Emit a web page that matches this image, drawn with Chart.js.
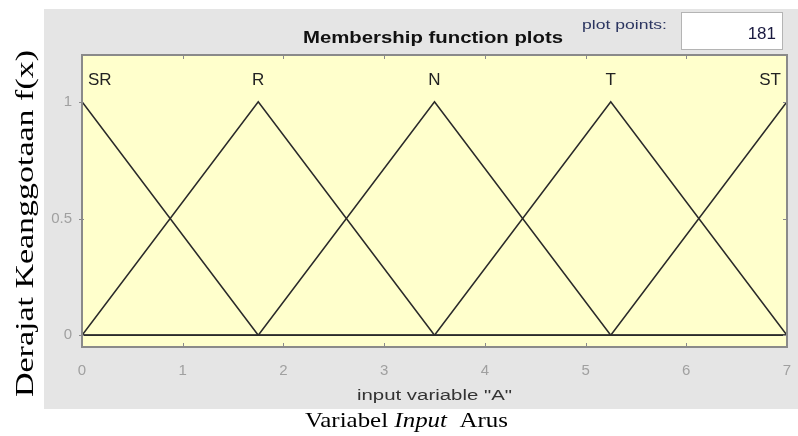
<!DOCTYPE html>
<html>
<head>
<meta charset="utf-8">
<script src="https://cdn.jsdelivr.net/npm/chart.js@4.4.1/dist/chart.umd.min.js"></script>
<style>
  html, body { margin: 0; padding: 0; background: #ffffff; }
  #wrap { width: 798px; height: 436px; }
</style>
</head>
<body>
<div id="wrap"><canvas id="mfChart" width="798" height="436"></canvas></div>
<script>
// breakpoints of the input range (A)
const breakX = [0, 1.75, 3.5, 5.25, 7];
// membership degree of each set at the breakpoints
const mfSR = [1, 0, 0, 0, 0];
const mfR  = [0, 1, 0, 0, 0];
const mfN  = [0, 0, 1, 0, 0];
const mfT  = [0, 0, 0, 1, 0];
const mfST = [0, 0, 0, 0, 1];
const mfNames = ['SR', 'R', 'N', 'T', 'ST'];
const mfPeaks = [0, 1.75, 3.5, 5.25, 7];
const yTicks = [0, 0.5, 1];

const SANS = '"Liberation Sans", Arial, sans-serif';
const SERIF = '"Liberation Serif", "Times New Roman", serif';

function toPoints(ys) {
    return breakX.map((x, i) => ({ x: x, y: ys[i] }));
}

const datasets = [mfSR, mfR, mfN, mfT, mfST].map((ys, i) => ({
    label: mfNames[i],
    data: toPoints(ys),
    borderColor: '#2a2a2a',
    borderWidth: 1.6,
    pointRadius: 0,
    tension: 0,
    fill: false
}));

// draw text stretched horizontally to a given width
function fitText(ctx, parts, x, y, width, rotate) {
    let total = 0;
    parts.forEach(p => { ctx.font = p.font; total += ctx.measureText(p.text).width; });
    const sx = width / total;
    ctx.save();
    ctx.translate(x, y);
    if (rotate) ctx.rotate(-Math.PI / 2);
    ctx.scale(sx, 1);
    let cx = 0;
    parts.forEach(p => {
        ctx.font = p.font;
        ctx.fillText(p.text, cx, 0);
        cx += ctx.measureText(p.text).width;
    });
    ctx.restore();
}

const panelPlugin = {
    id: 'panel',
    beforeDraw(chart) {
        const ctx = chart.ctx;
        const a = chart.chartArea;
        ctx.save();
        ctx.fillStyle = '#ffffff';
        ctx.fillRect(0, 0, chart.width, chart.height);
        // figure panel
        ctx.fillStyle = '#e5e5e5';
        ctx.fillRect(44, 9, chart.width - 44, 400);
        // axes background
        ctx.fillStyle = '#ffffcc';
        ctx.fillRect(a.left, a.top, a.right - a.left, a.bottom - a.top);

        // title
        ctx.fillStyle = '#111111';
        ctx.textBaseline = 'alphabetic';
        fitText(ctx, [{ text: 'Membership function plots', font: 'bold 17px ' + SANS }], 303, 43, 260);

        // plot points field
        ctx.fillStyle = '#2b3560';
        fitText(ctx, [{ text: 'plot points:', font: '13px ' + SANS }], 582, 29, 85);
        ctx.fillStyle = '#ffffff';
        ctx.fillRect(681, 12, 102, 38);
        ctx.strokeStyle = '#b4b4b4';
        ctx.lineWidth = 1;
        ctx.strokeRect(681.5, 12.5, 101, 37);
        ctx.fillStyle = '#1a1a40';
        ctx.font = '17px ' + SANS;
        ctx.textAlign = 'right';
        ctx.fillText('181', 776, 39);
        ctx.textAlign = 'left';

        // x axis name
        ctx.fillStyle = '#333333';
        fitText(ctx, [{ text: 'input variable "A"', font: '14px ' + SANS }], 357, 400, 155);

        // outer labels
        ctx.fillStyle = '#000000';
        fitText(ctx, [
            { text: 'Variabel ', font: '22px ' + SERIF },
            { text: 'Input', font: 'italic 22px ' + SERIF },
            { text: '  Arus', font: '22px ' + SERIF }
        ], 305, 427, 203);
        fitText(ctx, [{ text: 'Derajat Keanggotaan f(x)', font: '26px ' + SERIF }], 33, 397, 347, true);
        ctx.restore();
    },
    afterDatasetsDraw(chart) {
        const ctx = chart.ctx;
        const a = chart.chartArea;
        const xs = chart.scales.x;
        const ys = chart.scales.y;
        ctx.save();
        // axes box
        ctx.strokeStyle = '#8a8a8a';
        ctx.lineWidth = 2;
        ctx.strokeRect(a.left, a.top, a.right - a.left, a.bottom - a.top);
        // inward tick marks
        ctx.lineWidth = 1;
        ctx.beginPath();
        for (let v = 1; v < 7; v++) {
            const px = Math.round(xs.getPixelForValue(v)) + 0.5;
            ctx.moveTo(px, a.top); ctx.lineTo(px, a.top + 4);
            ctx.moveTo(px, a.bottom); ctx.lineTo(px, a.bottom - 4);
        }
        yTicks.forEach(v => {
            const py = Math.round(ys.getPixelForValue(v)) + 0.5;
            ctx.moveTo(a.left - 3, py); ctx.lineTo(a.left + 2, py);
            ctx.moveTo(a.right, py); ctx.lineTo(a.right - 4, py);
        });
        ctx.stroke();

        // set names above the peaks
        ctx.fillStyle = '#222222';
        ctx.font = '17px ' + SANS;
        ctx.textBaseline = 'middle';
        const ly = ys.getPixelForValue(1.09);
        mfNames.forEach((name, i) => {
            let px = xs.getPixelForValue(mfPeaks[i]);
            if (i === 0) { ctx.textAlign = 'left'; px += 6; }
            else if (i === mfNames.length - 1) { ctx.textAlign = 'right'; px -= 6; }
            else ctx.textAlign = 'center';
            ctx.fillText(name, px, ly);
        });
        ctx.restore();
    }
};

const config = {
    type: 'line',
    data: { datasets: datasets },
    options: {
        responsive: false,
        animation: false,
        devicePixelRatio: 1,
        layout: { padding: { left: 0, top: 55, right: 11, bottom: 0 } },
        plugins: {
            legend: { display: false },
            tooltip: { enabled: false }
        },
        scales: {
            x: {
                type: 'linear',
                min: 0,
                max: 7,
                grid: { display: false, drawTicks: false },
                border: { display: false },
                ticks: {
                    stepSize: 1,
                    padding: 15,
                    color: '#a0a0a0',
                    font: { family: SANS, size: 15 },
                    maxRotation: 0
                },
                afterFit(scale) {
                    scale.height = 89;
                    scale.paddingLeft = 0;
                    scale.paddingRight = 0;
                }
            },
            y: {
                type: 'linear',
                min: -0.05,
                max: 1.2,
                grid: { display: false, drawTicks: false },
                border: { display: false },
                afterBuildTicks(scale) {
                    scale.ticks = yTicks.map(v => ({ value: v }));
                },
                ticks: {
                    padding: 10,
                    color: '#a0a0a0',
                    font: { family: SANS, size: 15 },
                    callback: v => String(v)
                },
                afterFit(scale) {
                    scale.width = 82;
                    scale.paddingTop = 0;
                    scale.paddingBottom = 0;
                }
            }
        }
    },
    plugins: [panelPlugin]
};

const ctx = document.getElementById('mfChart').getContext('2d');
const mfChart = new Chart(ctx, config);
</script>
</body>
</html>
